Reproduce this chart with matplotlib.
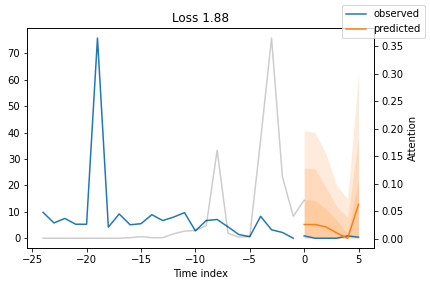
import numpy as np
import matplotlib
matplotlib.use("Agg")
import matplotlib.pyplot as plt

# encoder (observed) part
x_obs = list(range(-24, 0))
y_obs = [9.8, 5.8, 7.5, 5.3, 5.3, 75.8, 4.2, 9.2, 5.1, 5.5, 8.9, 6.7, 8.0, 9.7,
         2.8, 6.7, 7.1, 4.3, 1.4, 0.6, 8.3, 3.2, 2.2, 0.0]
# decoder part
x_pred = list(range(0, 6))
y_actual = [0.9, 0.0, 0.0, 0.0, 0.9, 0.4]
y_hat = [5.2, 5.2, 4.3, 2.0, 0.0, 12.8]
# quantiles (lower / upper pairs)
q_low = [[0.0, 0.0, 0.0, 0.0, 0.0, 0.0],
         [0.1, 0.1, 0.1, 0.1, 0.1, 0.1],
         [0.2, 0.2, 0.2, 0.2, 0.2, 0.2]]
q_high = [[40.8, 40.0, 32.0, 20.0, 14.9, 62.5],
          [26.5, 26.3, 19.3, 11.8, 8.0, 38.0],
          [14.7, 14.3, 11.1, 6.7, 1.7, 22.0]]
# attention
x_att = list(range(-24, 1))
attention = [0.001, 0.001, 0.001, 0.001, 0.001, 0.001, 0.001, 0.001, 0.002, 0.004,
             0.002, 0.002, 0.009, 0.014, 0.015, 0.024, 0.161, 0.010, 0.003, 0.004,
             0.18, 0.365, 0.113, 0.041, 0.070]

fig = plt.figure(figsize=(430 / 72, 286 / 72), dpi=72)
ax = fig.add_axes([0.0635, 0.132, 0.807, 0.770])
obs_color = "C0"
pred_color = "C1"
ax.plot(x_obs, y_obs, label="observed", c=obs_color)
ax.plot(x_pred, y_actual, label=None, c=obs_color)
ax.plot(x_pred, y_hat, label="predicted", c=pred_color)
for lo, hi in zip(q_low, q_high):
    ax.fill_between(x_pred, lo, hi, alpha=0.15, color=pred_color, linewidth=0)
ax.set_xlabel("Time index")
ax.set_title("Loss 1.88")
ax.set_yticks([0, 10, 20, 30, 40, 50, 60, 70])

ax2 = ax.twinx()
ax2.plot(x_att, attention, alpha=0.2, color="k")
ax2.set_ylabel("Attention")

fig.legend()
fig.savefig("out.png", dpi=72)
